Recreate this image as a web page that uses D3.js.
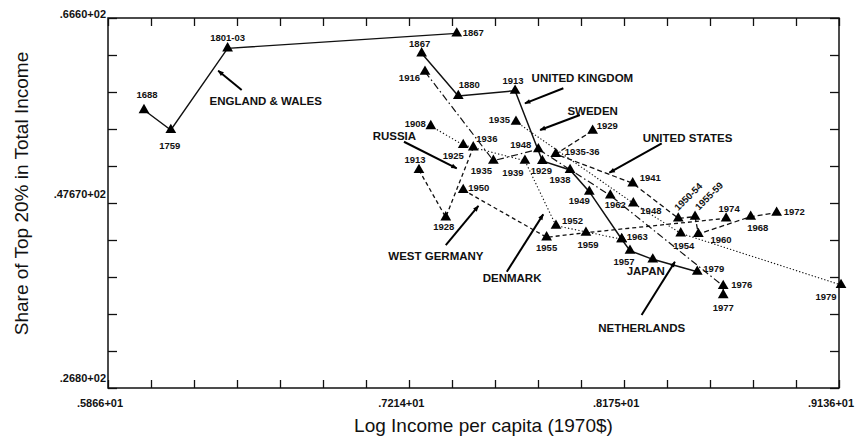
<!DOCTYPE html>
<html><head><meta charset="utf-8">
<script src="https://cdn.jsdelivr.net/npm/d3@7"></script>
<style>body{margin:0;background:#fff;} svg{display:block;}</style>
</head><body><svg id="c" width="858" height="439"></svg>
<script>
// ---------- data ----------
const xDomain = [5.866, 9.136];
const yDomain = [26.8, 66.6];
const xTickValues = [5.866, 7.214, 8.175, 9.136];
const xTickLabels = [".5866+01", ".7214+01", ".8175+01", ".9136+01"];
const yTickValues = [26.8, 47.67, 66.6];
const yTickLabels = [".2680+02", ".47670+02", ".6660+02"];

const englandWalesYears = ["1688", "1759", "1801-03", "1867"];
const englandWalesX = [6.027, 6.147, 6.401, 7.426];
const englandWalesY = [56.70, 54.55, 63.34, 64.95];

const ukYears = ["1867", "1880", "1913", "1929", "1938", "1949", "1963", "1957", "", "1979"];
const ukX = [7.269, 7.433, 7.687, 7.809, 7.933, 8.019, 8.164, 8.201, 8.303, 8.502];
const ukY = [62.80, 58.21, 58.78, 51.22, 50.25, 47.92, 42.80, 41.57, 40.64, 39.31];

const netherlandsYears = ["1916", "1935", "1948", "1962", "1976", "1977"];
const netherlandsX = [7.284, 7.590, 7.791, 8.113, 8.618, 8.618];
const netherlandsY = [60.82, 51.25, 52.48, 47.51, 37.77, 36.80];

const swedenYears = ["1935", "1948", "1954", "1979"];
const swedenX = [7.691, 8.216, 8.428, 9.145];
const swedenY = [55.45, 46.67, 43.44, 37.88];

const usYears = ["1929", "1935-36", "1941", "1950-54", "1955-59", "1960", "1968", "1972"];
const usX = [8.034, 7.869, 8.213, 8.417, 8.492, 8.507, 8.741, 8.857];
const usY = [54.48, 51.97, 48.82, 45.05, 45.23, 43.37, 45.23, 45.66];

const westGermanyYears = ["1950", "1955", "1959", "1974"];
const westGermanyX = [7.455, 7.828, 8.004, 8.631];
const westGermanyY = [48.10, 43.01, 43.51, 45.05];

const prussiaYears = ["1913", "1928", "1936"];
const prussiaX = [7.257, 7.377, 7.500];
const prussiaY = [50.25, 45.16, 52.69];

const denmarkYears = ["1908", "1925", "1939", "1952", "1963"];
const denmarkX = [7.310, 7.455, 7.731, 7.870, 8.164];
const denmarkY = [54.98, 52.94, 51.25, 44.26, 42.80];

// country annotations: label anchor and arrow (tail -> head), data units
const countryNames = ["ENGLAND & WALES", "UNITED KINGDOM", "SWEDEN", "UNITED STATES", "RUSSIA", "WEST GERMANY", "DENMARK", "JAPAN", "NETHERLANDS"];
const countryLabelX = [6.320, 7.761, 7.921, 8.258, 7.050, 7.120, 7.542, 8.186, 8.059];
const countryLabelY = [57.24, 59.75, 56.17, 53.29, 53.48, 40.62, 38.23, 38.96, 32.86];
const arrowTailX = [6.464, 7.903, 7.977, 8.343, 7.190, 7.377, 7.650, null, 8.253];
const arrowTailY = [58.86, 59.04, 56.17, 53.12, 53.29, 42.18, 39.31, null, 34.65];
const arrowHeadX = [6.359, 7.731, 7.799, 8.109, 7.426, 7.523, 7.813, null, 8.402];
const arrowHeadY = [60.93, 57.42, 54.55, 49.96, 50.43, 46.38, 45.48, null, 40.39];

// ---------- layout / style ----------
const series = [
  {years: englandWalesYears, x: englandWalesX, y: englandWalesY, dash: null, w: 1.4,
   lab: [["middle",3,-12],["middle",-1,19],["middle",0,-7],["start",6,3]]},
  {years: ukYears, x: ukX, y: ukY, dash: null, w: 1.5,
   lab: [["middle",-2,-6],["middle",11,-8],["middle",-2,-7],["middle",-1,13],["middle",-10,13],["middle",-10,12],["start",5,1],["middle",-6,14],null,["start",6,0]]},
  {years: netherlandsYears, x: netherlandsX, y: netherlandsY, dash: "7,3,1.5,3", w: 1.2,
   lab: [["end",-5,9],["middle",-12,13],["end",-7,-1],["middle",5,13],["start",8,2],["middle",0,16]]},
  {years: swedenYears, x: swedenX, y: swedenY, dash: "1.3,2", w: 1.1,
   lab: [["end",-6,1],["start",7,11],["middle",3,16],["middle",-15,15]]},
  {years: usYears, x: usX, y: usY, dash: "5,3", w: 1.3,
   lab: [["start",4,-2],["start",9,1],["start",7,-2],["start",0,-7,-45],["start",4,-6,-45],["start",12,9],["middle",7,14],["start",7,2]]},
  {years: westGermanyYears, x: westGermanyX, y: westGermanyY, dash: "4,3", w: 1.3,
   lab: [["start",5,1],["middle",0,14],["middle",2,15],["middle",3,-6]]},
  {years: prussiaYears, x: prussiaX, y: prussiaY, dash: "4,3", w: 1.3,
   lab: [["middle",-4,-7],["middle",-2,13],["start",3,-5]]},
  {years: denmarkYears, x: denmarkX, y: denmarkY, dash: "1.3,2.2", w: 1.1,
   lab: [["end",-5,1],["middle",-10,14],["middle",-12,15],["start",6,-2],null]}
];

const L = 108, R = 839, T = 18, B = 388;
const svg = d3.select("#c");
svg.append("rect").attr("width", 858).attr("height", 439).attr("fill", "#fff");

const x = d3.scaleLinear().domain(xDomain).range([L, R]);
const y = d3.scaleLinear().domain(yDomain).range([B, T]);

const xTicks = d3.range(18).map(i => xDomain[0] + i * (xDomain[1] - xDomain[0]) / 17);
const yTicks = d3.range(11).map(i => yDomain[0] + i * (yDomain[1] - yDomain[0]) / 10);

function clean(g) { g.select(".domain").remove(); g.selectAll("line").attr("stroke", "#111").attr("stroke-width", 1.3); }
svg.append("g").attr("transform", `translate(0,${B})`)
  .call(d3.axisBottom(x).tickValues(xTicks).tickSize(-8).tickFormat("")).call(clean);
svg.append("g").attr("transform", `translate(0,${T})`)
  .call(d3.axisTop(x).tickValues(xTicks).tickSize(-8).tickFormat("")).call(clean);
svg.append("g").attr("transform", `translate(${L},0)`)
  .call(d3.axisLeft(y).tickValues(yTicks).tickSize(-9).tickFormat("")).call(clean);
svg.append("g").attr("transform", `translate(${R},0)`)
  .call(d3.axisRight(y).tickValues(yTicks).tickSize(-9).tickFormat("")).call(clean);

svg.append("rect").attr("x", L).attr("y", T).attr("width", R - L).attr("height", B - T)
  .attr("fill", "none").attr("stroke", "#111").attr("stroke-width", 1.5);

const tickFont = "'Liberation Sans', Arial, sans-serif";
// x tick labels
svg.selectAll(".xl").data(xTickValues).enter().append("text")
  .attr("x", d => x(d) - 8).attr("y", 407)
  .attr("text-anchor", "middle").attr("font-family", tickFont).attr("font-weight", "bold")
  .attr("font-size", 11).attr("fill", "#111").text((d, i) => xTickLabels[i]);
// y tick labels
const yOff = [-6, 4, 0];
svg.selectAll(".yl").data(yTickValues).enter().append("text")
  .attr("x", 106).attr("y", (d, i) => y(d) + yOff[i])
  .attr("text-anchor", "end").attr("font-family", tickFont).attr("font-weight", "bold")
  .attr("font-size", 11).attr("fill", "#111").text((d, i) => yTickLabels[i]);

// axis titles
svg.append("text").attr("transform", "translate(28,193.5) rotate(-90)")
  .attr("text-anchor", "middle").attr("font-family", tickFont).attr("font-size", 19)
  .attr("fill", "#111").text("Share of Top 20% in Total Income");
svg.append("text").attr("x", 483.5).attr("y", 432)
  .attr("text-anchor", "middle").attr("font-family", tickFont).attr("font-size", 19)
  .attr("fill", "#111").text("Log Income per capita (1970$)");

// series lines
const line = d3.line().x(d => x(d[0])).y(d => y(d[1]));
series.forEach(s => {
  const pts = s.x.map((v, i) => [v, s.y[i]]);
  svg.append("path").datum(pts).attr("d", line).attr("fill", "none")
    .attr("stroke", "#111").attr("stroke-width", s.w)
    .attr("stroke-dasharray", s.dash);
});

// markers
const tri = d3.symbol(d3.symbolTriangle, 50);
series.forEach(s => {
  s.x.forEach((v, i) => {
    svg.append("path").attr("d", tri()).attr("fill", "#000")
      .attr("transform", `translate(${x(v)},${y(s.y[i])})`);
  });
});

// year labels
series.forEach(s => {
  s.years.forEach((yr, i) => {
    const p = s.lab[i];
    if (!p || !yr) return;
    const px = x(s.x[i]) + p[1], py = y(s.y[i]) + p[2];
    svg.append("text").attr("transform", `translate(${px},${py})` + (p[3] ? ` rotate(${p[3]})` : ""))
      .attr("text-anchor", p[0]).attr("font-family", tickFont).attr("font-weight", "bold")
      .attr("font-size", 9.5).attr("fill", "#111").text(yr);
  });
});

// arrows
const defs = svg.append("defs");
defs.append("marker").attr("id", "ah").attr("viewBox", "0 0 10 10").attr("refX", 9).attr("refY", 5)
  .attr("markerWidth", 7).attr("markerHeight", 6).attr("markerUnits", "userSpaceOnUse").attr("orient", "auto")
  .append("path").attr("d", "M0,1 L10,5 L0,9 z").attr("fill", "#000");

countryNames.forEach((n, i) => {
  if (arrowTailX[i] !== null) {
    svg.append("line").attr("x1", x(arrowTailX[i])).attr("y1", y(arrowTailY[i]))
      .attr("x2", x(arrowHeadX[i])).attr("y2", y(arrowHeadY[i]))
      .attr("stroke", "#000").attr("stroke-width", 2).attr("marker-end", "url(#ah)");
  }
  svg.append("text").attr("x", x(countryLabelX[i])).attr("y", y(countryLabelY[i]))
    .attr("font-family", tickFont).attr("font-weight", "bold").attr("font-size", 11.5)
    .attr("fill", "#111").text(n);
});
</script>
</body></html>
